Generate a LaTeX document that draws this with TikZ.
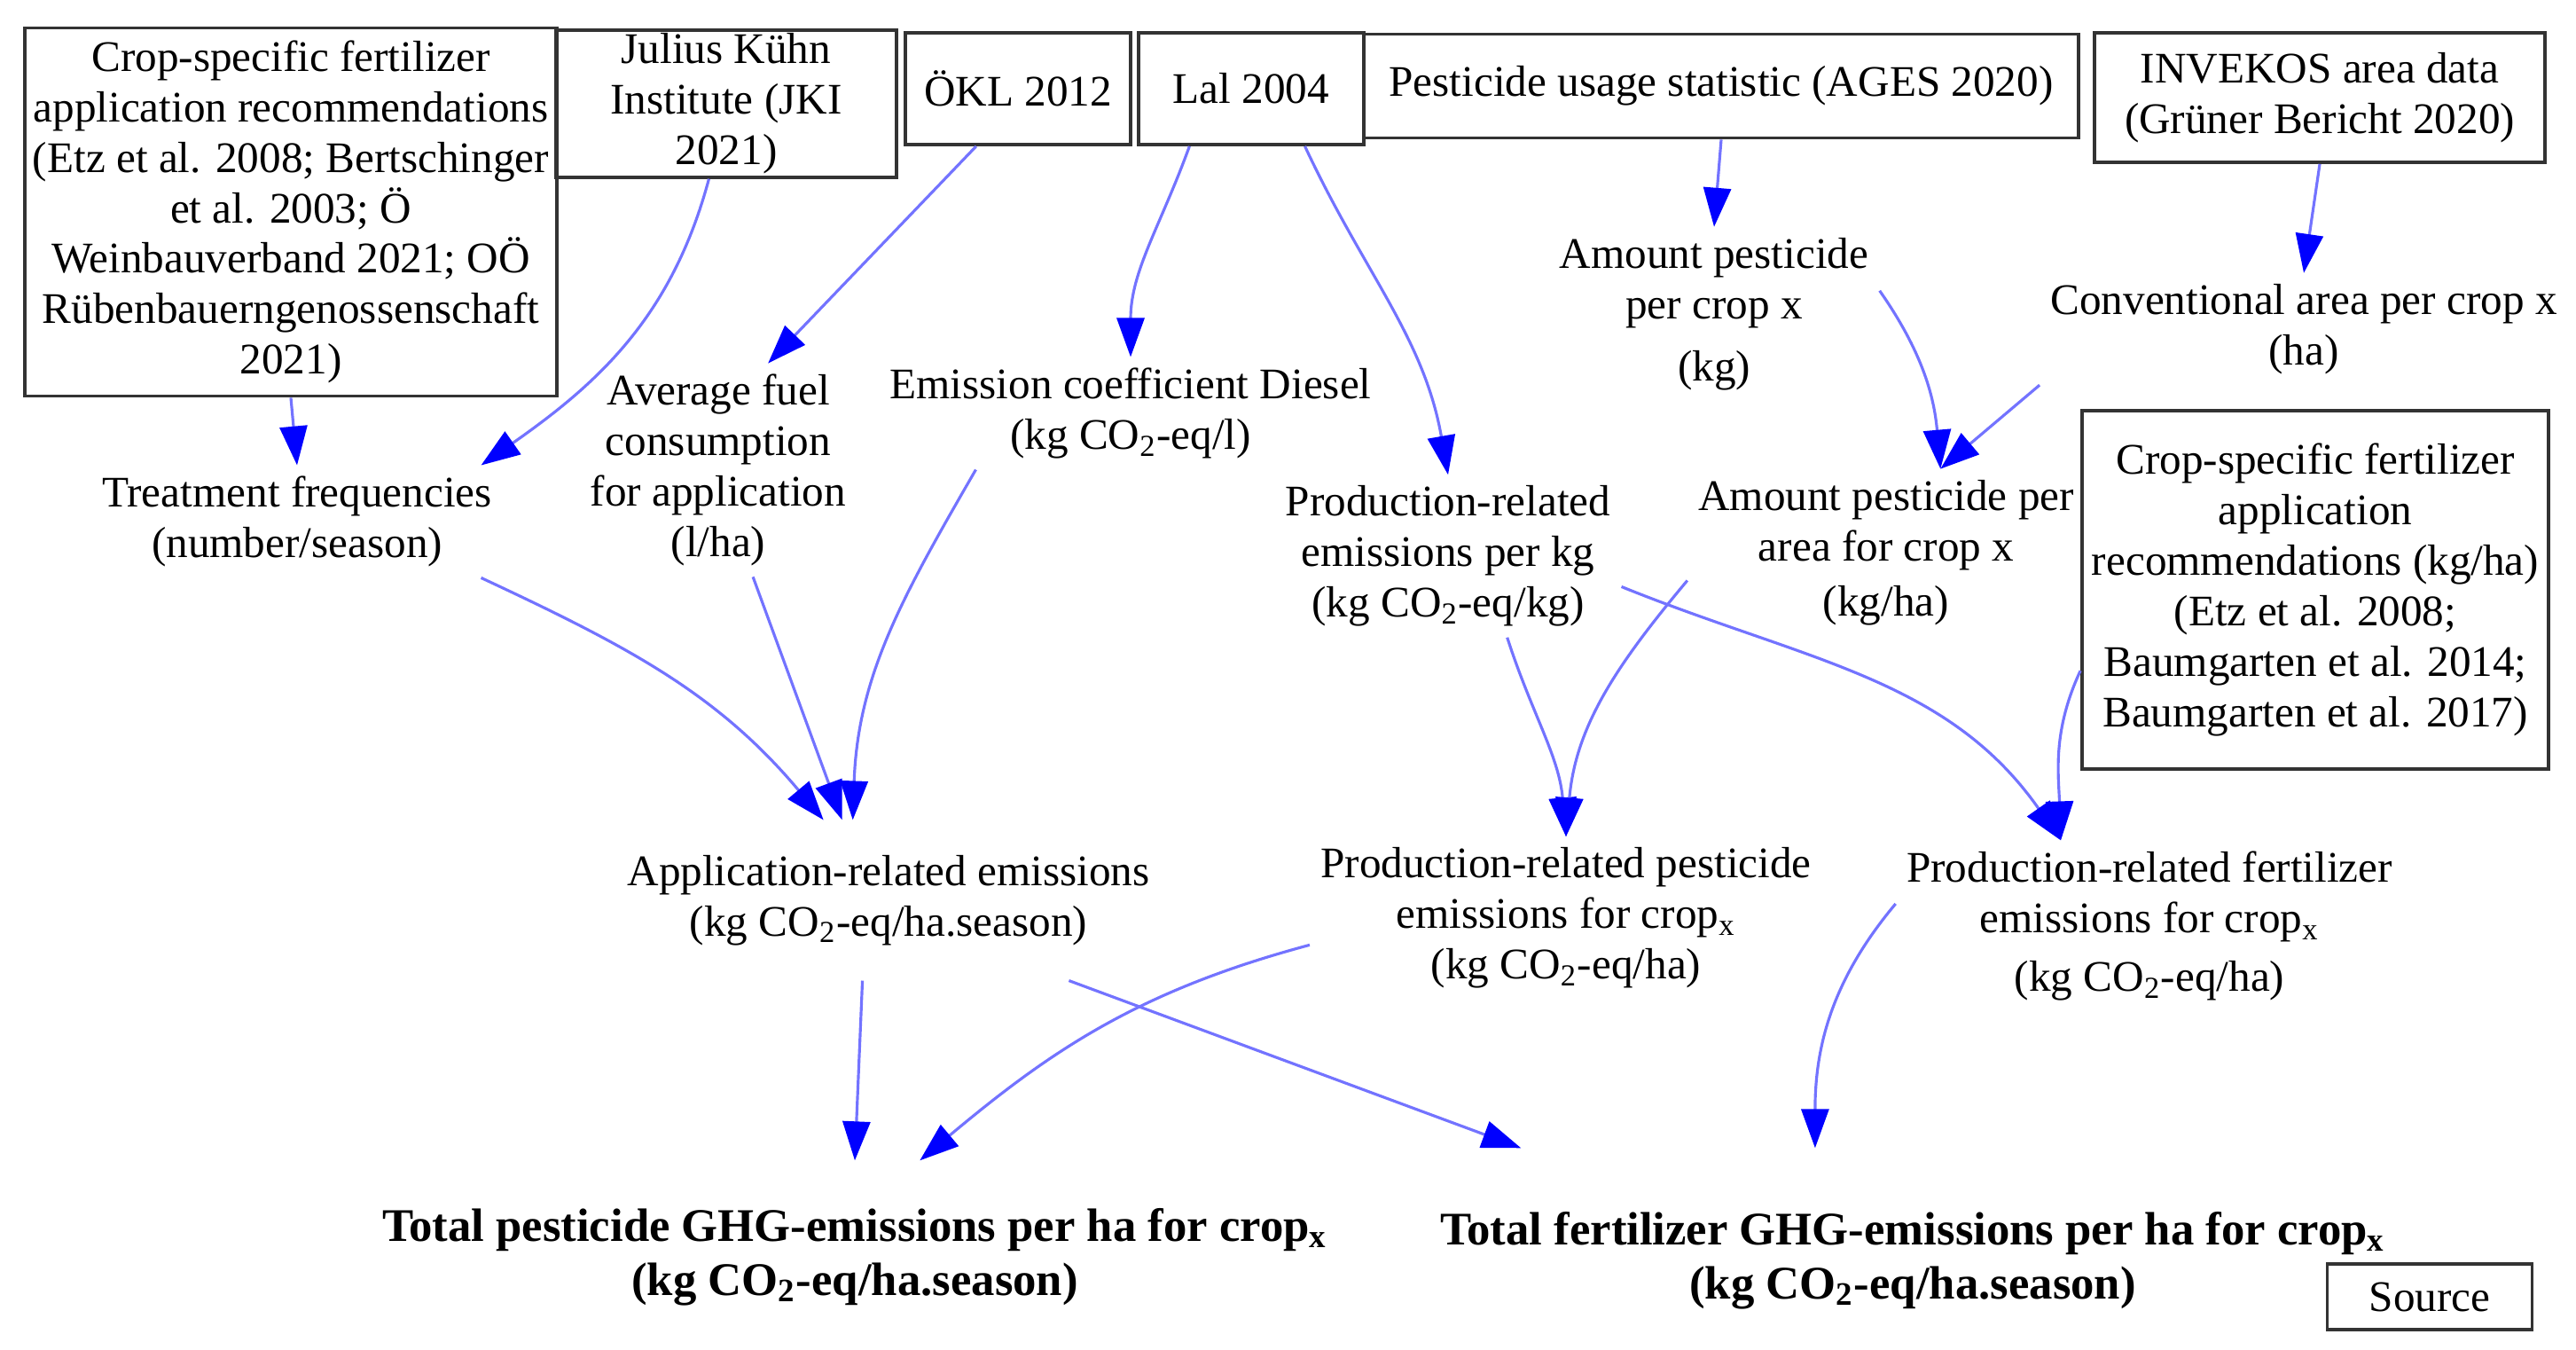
\documentclass[tikz,border=0pt]{standalone}
\usepackage{fontspec}
\setmainfont{Liberation Serif}
\usetikzlibrary{arrows.meta}

\begin{document}
\begin{tikzpicture}[font=\fontsize{14}{16.2}\selectfont,
  block/.style={draw=black!80, line width=1.1pt, inner sep=1pt, align=center},
  txt/.style={align=center},
  total/.style={align=center, font=\fontsize{15}{17.4}\selectfont\bfseries},
  flow/.style={draw=blue!55, line width=0.9pt, -{Triangle[length=4.4mm, width=3.1mm, color=blue]}}]

  \useasboundingbox (0,0) rectangle (29.05,15.22);

  % First row (sources)
  \node[block, minimum width=6cm, minimum height=4.15cm] (fertRec) at (3.28,12.83) {Crop-specific fertilizer\\application recommendations\\(Etz et al. 2008; Bertschinger\\et al. 2003; Ö\\Weinbauverband 2021; OÖ\\Rübenbauerngenossenschaft\\2021)};
  \node[block, minimum width=3.84cm, minimum height=1.63cm] (jki) at (8.19,14.05) {Julius Kühn\\Institute (JKI\\2021)};
  \node[block, minimum width=2.54cm, minimum height=1.26cm] (okl) at (11.48,14.22) {ÖKL 2012};
  \node[block, minimum width=2.54cm, minimum height=1.26cm] (lal) at (14.11,14.22) {Lal 2004};
  \node[block, minimum width=8.06cm, minimum height=1.17cm] (ages) at (19.41,14.25) {Pesticide usage statistic (AGES 2020)};
  \node[block, minimum width=5.08cm, minimum height=1.46cm] (invekos) at (26.16,14.12) {INVEKOS area data\\(Grüner Bericht 2020)};
  \node[block, minimum width=5.26cm, minimum height=4.04cm] (fertRecHa) at (26.11,8.57) {Crop-specific fertilizer\\application\\recommendations (kg/ha)\\(Etz et al. 2008;\\Baumgarten et al. 2014;\\Baumgarten et al. 2017)};
  \node[block, minimum width=2.31cm, minimum height=0.74cm] (source) at (27.40,0.60) {Source};

  % Intermediate quantities
  \node[txt] (treatFreq) at (3.35,9.34) {Treatment frequencies\\(number/season)};
  \node[txt] (fuel) at (8.10,9.92) {Average fuel\\consumption\\for application\\(l/ha)};
  \node[txt] (dieselCoef) at (12.75,10.56) {Emission coefficient Diesel\\(kg CO\textsubscript{2}-eq/l)};
  \node[txt] (prodKg) at (16.33,8.95) {Production-related\\emissions per kg\\(kg CO\textsubscript{2}-eq/kg)};
  \node[txt] (pestCrop) at (19.33,11.68) {Amount pesticide\\per crop x\\[3.7pt](kg)};
  \node[txt] (convArea) at (25.98,11.51) {Conventional area per crop x\\(ha)};
  \node[txt] (pestArea) at (21.27,8.99) {Amount pesticide per\\area for crop x\\[1.5pt](kg/ha)};

  % Emissions
  \node[txt, outer ysep=0.28cm] (appEm) at (10.02,5.07) {Application-related emissions\\(kg CO\textsubscript{2}-eq/ha.season)};
  \node[txt] (prodPest) at (17.66,4.87) {Production-related pesticide\\emissions for crop\textsubscript{x}\\(kg CO\textsubscript{2}-eq/ha)};
  \node[txt] (prodFert) at (24.24,4.78) {Production-related fertilizer\\emissions for crop\textsubscript{x}\\[2.6pt](kg CO\textsubscript{2}-eq/ha)};

  % Results
  \node[total, outer ysep=0.42cm] (totalPest) at (9.64,1.05) {Total pesticide GHG-emissions per ha for crop\textsubscript{x}\\(kg CO\textsubscript{2}-eq/ha.season)};
  \node[total, outer ysep=0.6cm] (totalFert) at (21.57,1.01) {Total fertilizer GHG-emissions per ha for crop\textsubscript{x}\\(kg CO\textsubscript{2}-eq/ha.season)};

  % Arrows
  \draw[flow] (fertRec.south) -- (treatFreq.north);
  \draw[flow] (jki.257) to[out=-105,in=35] (treatFreq.17);
  \draw[flow] (okl.234) -- (fuel.65);
  \draw[flow] (lal.223) to[out=-110,in=90] (dieselCoef.north);
  \draw[flow] (lal.313) to[out=-65,in=100] (prodKg.north);
  \draw[flow] (ages.south) -- (pestCrop.north);
  \draw[flow] (invekos.south) -- (convArea.north);
  \draw[flow] (pestCrop.8) to[out=-55,in=95] (pestArea.57);
  \draw[flow] (convArea.south west) -- (pestArea.57);
  \draw[flow] (treatFreq.343) to[out=-25,in=130] (appEm.129);
  \draw[flow] (fuel.288) -- (appEm.120);
  \draw[flow] (dieselCoef.200) to[out=-120,in=88] (appEm.114);
  \draw[flow] (prodKg.306) to[out=-72,in=95] (prodPest.north);
  \draw[flow] (pestArea.188) to[out=-130,in=85] (prodPest.north);
  \draw[flow] (prodKg.350) to[out=-22,in=125] (prodFert.136);
  \draw[flow] (fertRecHa.199) to[out=-115,in=92] (prodFert.136);
  \draw[flow] (appEm.252) -- (totalPest.north);
  \draw[flow] (prodPest.186) to[out=195,in=40] (totalPest.56);
  \draw[flow] (appEm.336) -- (totalFert.164);
  \draw[flow] (prodFert.175) to[out=-130,in=90] (totalFert.131);

\end{tikzpicture}
\end{document}
